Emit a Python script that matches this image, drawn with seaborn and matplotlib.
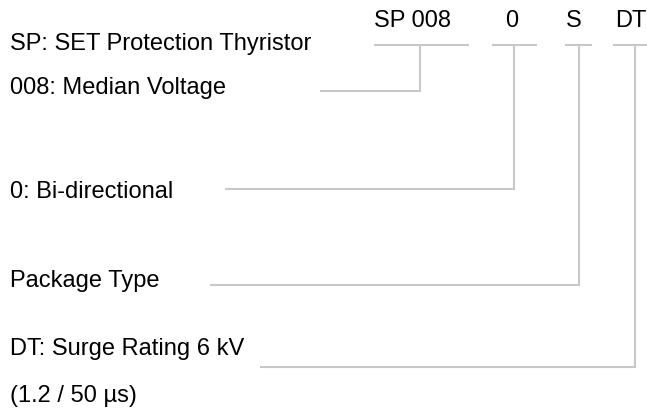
import matplotlib
matplotlib.use("Agg")
import matplotlib.pyplot as plt
import seaborn as sns

# part number segments
codes = ["SP 008", "0", "S", "DT"]
code_x = [413, 512, 574, 631]
underline_left = [374, 492, 565, 613]
underline_right = [469, 537, 592, 647]
drop_x = [420, 514, 579, 635]

# descriptions on the left
descriptions = ["SP: SET Protection Thyristor", "008: Median Voltage",
                "0: Bi-directional", "Package Type",
                "DT: Surge Rating 6 kV", "(1.2 / 50 µs)"]
desc_y = [44, 88, 192, 281, 349, 396]

# leader line for each code: row height and where it starts on the left
leader_y = [91, 189, 285, 367]
leader_start = [320, 225, 210, 260]

line_color = "#c8c8c8"

sns.set_theme(style="white")
plt.rcParams["font.family"] = ["Liberation Sans", "DejaVu Sans"]

fig = plt.figure(figsize=(6.47, 4.12), dpi=100)
ax = fig.add_axes([0, 0, 1, 1])
ax.set_xlim(0, 647)
ax.set_ylim(412, 0)
ax.axis("off")

for i, code in enumerate(codes):
    ax.text(code_x[i], 21, code, ha="center", va="center", fontsize=17, color="black")
    ax.plot([underline_left[i], underline_right[i]], [45, 45], color=line_color, lw=1.5,
            solid_capstyle="butt")
    ax.plot([drop_x[i], drop_x[i], leader_start[i]], [45, leader_y[i], leader_y[i]],
            color=line_color, lw=1.5, solid_joinstyle="miter", solid_capstyle="butt")

for text, y in zip(descriptions, desc_y):
    ax.text(10, y, text, ha="left", va="center", fontsize=17, color="black")

fig.savefig("out.png", dpi=100, facecolor="white")
